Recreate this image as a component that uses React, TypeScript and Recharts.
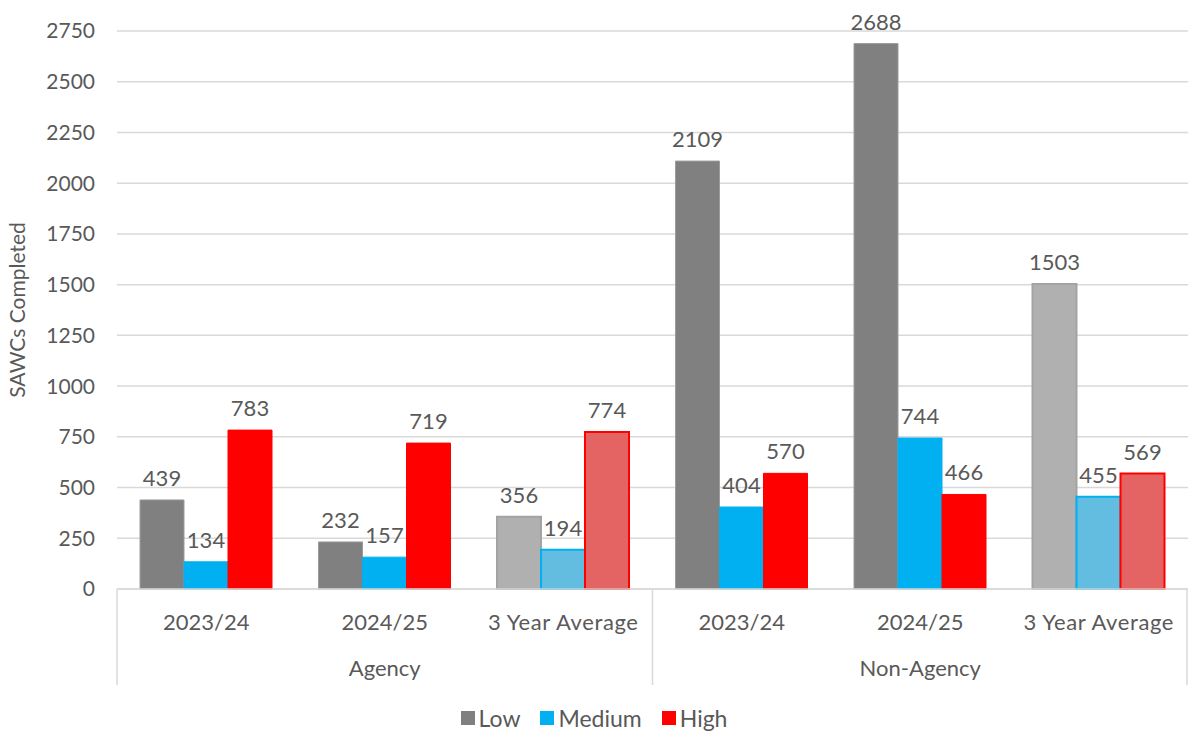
import { Bar, BarChart, CartesianGrid, Cell, LabelList, Legend, XAxis, YAxis } from "recharts";

// SAWCs completed by risk level — Agency vs Non-Agency
const categories = ["2023/24", "2024/25", "3 Year Average", "2023/24", "2024/25", "3 Year Average"];
const groups = ["Agency", "Agency", "Agency", "Non-Agency", "Non-Agency", "Non-Agency"];
const low = [439, 232, 356, 2109, 2688, 1503];
const medium = [134, 157, 194, 404, 744, 455];
const high = [783, 719, 774, 570, 466, 569];
const yTicks = [0, 250, 500, 750, 1000, 1250, 1500, 1750, 2000, 2250, 2500, 2750];

const FONT = "Lato, 'Noto Sans', sans-serif";
const TEXT = "#595959";
const GRID = "#d9d9d9";

const series = [
  { key: "low", name: "Low", fill: "#808080", stroke: "#9c9c9c", avgFill: "#b0b0b0", avgStroke: "#a3a3a3" },
  { key: "medium", name: "Medium", fill: "#00b0f0", stroke: "#00b0f0", avgFill: "#63bde0", avgStroke: "#00b0f0" },
  { key: "high", name: "High", fill: "#ff0000", stroke: "#ff0000", avgFill: "#e46464", avgStroke: "#ff0000" },
];

const data = categories.map((cat, i) => ({
  cat,
  group: groups[i],
  avg: cat === "3 Year Average",
  low: low[i],
  medium: medium[i],
  high: high[i],
}));

function CatTick(props: any) {
  const { x, y, payload, index } = props;
  const half = payload?.offset ?? 89;
  const lines: number[] = [];
  if (index === 0 || groups[index] !== groups[index - 1]) lines.push(x - half);
  if (index === categories.length - 1) lines.push(x + half - 1);
  return (
    <g>
      {lines.map((lx, i) => (
        <line key={i} x1={lx} x2={lx} y1={y} y2={y + 96} stroke={GRID} strokeWidth={1.5} />
      ))}
      <text
        x={x}
        y={y + 41}
        textAnchor="middle"
        fill={TEXT}
        fontSize={22}
        fontFamily={FONT}
        letterSpacing={payload.value === "3 Year Average" ? 0.6 : 0}
      >
        {payload.value}
      </text>
    </g>
  );
}

function GroupTick(props: any) {
  const { x, y, payload } = props;
  return (
    <text x={x} y={y + 39} textAnchor="middle" fill={TEXT} fontSize={22} fontFamily={FONT}>
      {payload.value}
    </text>
  );
}

function LegendBox() {
  return (
    <div
      style={{
        height: 30,
        display: "flex",
        justifyContent: "center",
        alignItems: "center",
        gap: 20,
        fontFamily: FONT,
        fontSize: 23,
        color: TEXT,
      }}
    >
      {series.map((s) => (
        <span key={s.key} style={{ display: "flex", alignItems: "center", gap: 4 }}>
          <span style={{ width: 14, height: 14, background: s.fill, display: "inline-block" }} />
          {s.name}
        </span>
      ))}
    </div>
  );
}

export default function App() {
  return (
    <div style={{ position: "absolute", left: 0, top: 0, background: "#fff" }}>
      <BarChart
        width={1188}
        height={733}
        data={data}
        margin={{ top: 31, right: 0, left: 0, bottom: 0 }}
        barGap={0}
        barSize={44}
      >
        <CartesianGrid stroke={GRID} strokeWidth={1.5} vertical={false} />
        <XAxis
          dataKey="cat"
          height={48}
          interval={0}
          tickLine={false}
          tickSize={0}
          tickMargin={0}
          axisLine={{ stroke: GRID, strokeWidth: 1.5 }}
          tick={<CatTick />}
        />
        <XAxis
          xAxisId="grp"
          dataKey="group"
          allowDuplicatedCategory={false}
          height={66}
          interval={0}
          tickLine={false}
          tickSize={0}
          tickMargin={0}
          axisLine={false}
          tick={<GroupTick />}
        />
        <YAxis
          width={117}
          domain={[0, 2750]}
          ticks={yTicks}
          interval={0}
          tickLine={false}
          tickSize={0}
          tickMargin={22}
          axisLine={false}
          tick={{ fill: TEXT, fontSize: 21, fontFamily: FONT }}
          label={{
            value: "SAWCs Completed",
            angle: -90,
            position: "insideLeft",
            offset: 18,
            fill: TEXT,
            fontSize: 21,
            fontFamily: FONT,
            style: { textAnchor: "middle" },
          }}
        />
        <Legend verticalAlign="bottom" content={<LegendBox />} />
        {series.map((s) => (
          <Bar key={s.key} dataKey={s.key} name={s.name} fill={s.fill} isAnimationActive={false}>
            {data.map((d, i) => (
              <Cell
                key={i}
                fill={d.avg ? s.avgFill : s.fill}
                stroke={d.avg ? s.avgStroke : s.stroke}
                strokeWidth={d.avg ? 2 : 1}
              />
            ))}
            <LabelList dataKey={s.key} position="top" offset={14} fill={TEXT} fontSize={22} fontFamily={FONT} />
          </Bar>
        ))}
      </BarChart>
    </div>
  );
}
